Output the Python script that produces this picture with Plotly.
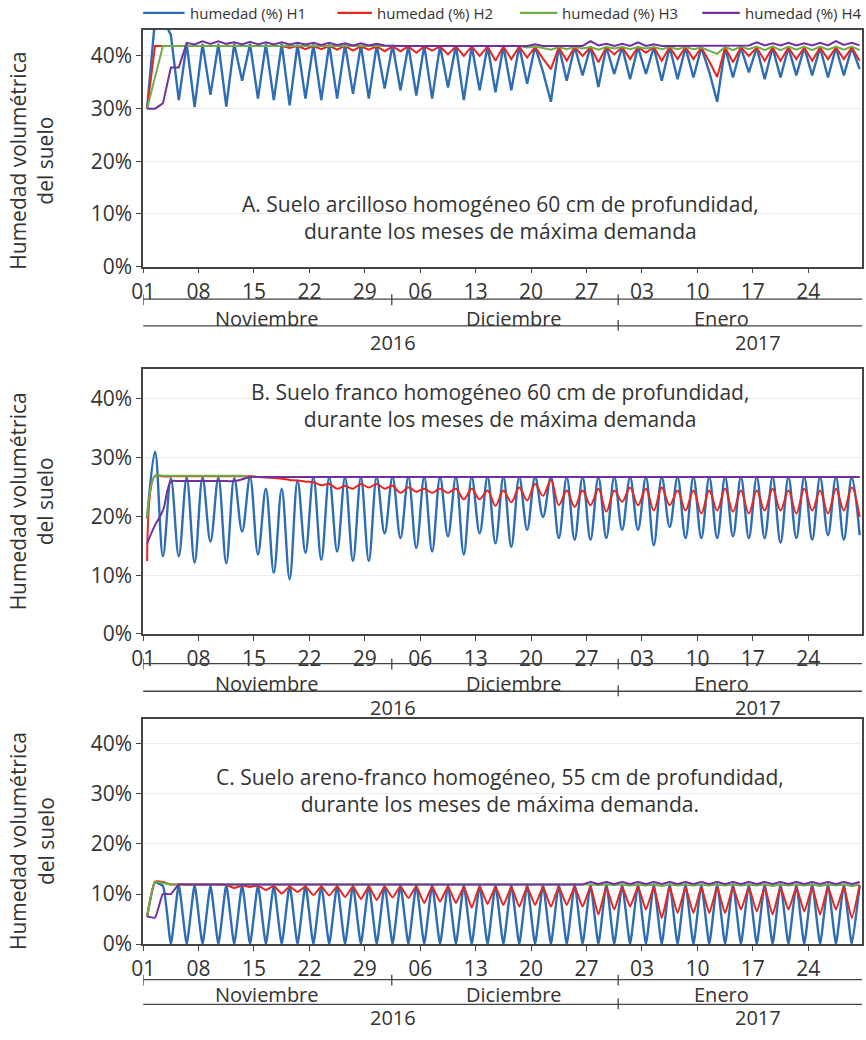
import plotly.graph_objects as go

W, H = 866, 1040

# sample positions: days since 1 Nov 2016 (daily values, plotted at mid-day)
days = [i + 0.5 for i in range(91)]

day_tick_pos = [0, 7, 14, 21, 28, 35, 42, 49, 56, 63, 70, 77, 84]
day_tick_txt = ["01", "08", "15", "22", "29", "06", "13", "20", "27", "03", "10", "17", "24"]
month_names = ["Noviembre", "Diciembre", "Enero"]
month_label_day = [15.6, 46.9, 73.1]
month_sep_day = [31.4, 60.0]
year_names = ["2016", "2017"]
year_label_day = [31.5, 77.7]
y_tick_vals = [0, 10, 20, 30, 40]
y_tick_txt = ["0%", "10%", "20%", "30%", "40%"]

names = ["humedad (%) H1", "humedad (%) H2", "humedad (%) H3", "humedad (%) H4"]
colors = ["#2E6DB4", "#E8251F", "#70AD47", "#7030A0"]
widths = [2.4, 2.0, 2.0, 2.0]

# ---------------- Panel A: arcilloso ----------------
A_H1 = [30, 47, 47, 44, 31.6, 42.3, 30.3, 42.3, 32.6, 42.3,
        30.4, 42.3, 35.3, 42.3, 31.9, 42.3, 31.6, 42.3, 30.6, 42.2,
        31.9, 42.2, 31.6, 42.2, 31.9, 42.2, 32.8, 42.1, 31.9, 42.1,
        33.8, 42.1, 33.5, 42.0, 32.5, 42.0, 31.9, 42.0, 34.0, 42.0,
        31.6, 41.9, 33.5, 41.9, 33.1, 41.9, 33.5, 41.9, 34.7, 41.8,
        37.0, 31.3, 41.8, 35.3, 41.8, 36.3, 41.8, 34.1, 41.7, 36.6,
        41.7, 35.6, 41.7, 36.6, 41.7, 35.3, 41.7, 35.6, 41.6, 35.9,
        41.6, 37.0, 31.3, 41.6, 35.9, 41.6, 36.9, 41.6, 35.6, 41.6,
        35.9, 41.6, 36.3, 41.6, 36.3, 41.6, 35.9, 41.6, 36.3, 41.6,
        37.5]
A_H2 = [30, 41.9, 41.9, 41.9, 41.9, 41.9, 41.9, 41.9, 41.9, 41.9,
        41.9, 41.9, 41.9, 41.9, 41.9, 41.9, 41.8, 41.9, 41.5, 41.9,
        41.3, 41.9, 41.3, 41.9, 41.2, 41.9, 41.0, 41.8, 41.2, 41.8,
        40.9, 41.8, 40.9, 41.8, 40.6, 41.8, 41.0, 41.8, 40.3, 41.8,
        40.0, 41.8, 40.0, 41.8, 39.1, 41.8, 39.4, 41.8, 39.7, 41.7,
        39.5, 37.5, 41.7, 39.1, 41.7, 40.0, 41.7, 38.8, 41.7, 40.3,
        41.7, 39.4, 41.7, 40.6, 41.7, 39.1, 41.7, 39.4, 41.7, 39.4,
        41.6, 39.0, 36.0, 41.6, 38.8, 41.6, 40.0, 41.6, 39.1, 41.6,
        39.1, 41.6, 39.4, 41.6, 39.1, 41.6, 39.4, 41.6, 39.4, 41.6,
        39.1]
A_H3 = [30, 36, 41.9, 41.9, 41.9, 41.9, 41.9, 41.9, 41.9, 41.9,
        41.9, 41.9, 41.9, 41.9, 41.9, 41.9, 41.9, 41.9, 41.9, 41.9,
        41.9, 41.9, 41.9, 41.9, 41.9, 41.9, 41.9, 41.9, 41.9, 41.9,
        41.9, 41.9, 41.9, 41.9, 41.9, 41.9, 41.9, 41.9, 41.9, 41.9,
        41.9, 41.9, 41.9, 41.9, 41.9, 41.9, 41.9, 41.9, 41.6, 41.8,
        41.5, 41.2, 41.7, 41.3, 41.7, 41.4, 41.7, 41.2, 41.7, 41.4,
        41.7, 41.3, 41.7, 41.4, 41.7, 41.3, 41.7, 41.3, 41.7, 41.3,
        41.6, 41.0, 40.4, 41.7, 41.1, 41.8, 41.3, 41.8, 41.1, 41.8,
        41.1, 41.8, 41.2, 41.8, 41.1, 41.8, 41.2, 41.8, 41.2, 41.8,
        41.1]
A_H4 = [30, 30, 31, 37.8, 37.8, 42.5, 42.2, 42.8, 42.3, 42.8,
        42.3, 42.6, 42.2, 42.7, 42.2, 42.6, 42.2, 42.6, 42.2, 42.5,
        42.2, 42.5, 42.1, 42.5, 42.1, 42.4, 42.0, 42.4, 42.0, 42.3,
        42.0, 41.9, 41.9, 41.9, 41.9, 41.9, 41.9, 41.9, 41.9, 41.9,
        41.9, 41.9, 41.9, 41.9, 41.9, 41.9, 41.9, 41.9, 41.9, 42.2,
        41.9, 41.9, 41.9, 41.9, 41.9, 41.9, 42.8, 42.0, 42.3, 41.9,
        42.3, 41.9, 42.6, 41.9, 42.2, 41.9, 41.9, 41.9, 41.9, 41.9,
        41.9, 41.9, 41.9, 41.9, 41.9, 41.9, 42.0, 42.6, 42.0, 42.4,
        42.0, 42.5, 42.0, 42.4, 42.0, 42.5, 42.0, 42.8, 42.1, 42.5,
        42.0]

# ---------------- Panel B: franco ----------------
B_H1 = [19.6, 31.0, 13.2, 26.5, 13.2, 26.6, 12.1, 26.6, 15.7, 26.6,
        12.0, 26.5, 17.4, 26.7, 13.5, 24.7, 10.4, 24.7, 9.3, 26.1,
        13.8, 26.7, 12.6, 26.7, 14.0, 26.7, 12.4, 26.7, 12.4, 26.7,
        17.1, 26.7, 16.3, 26.7, 14.6, 26.7, 14.0, 26.7, 16.6, 26.7,
        13.5, 26.7, 17.1, 26.7, 15.4, 26.7, 14.8, 26.7, 17.7, 26.7,
        19.9, 26.7, 16.3, 26.7, 16.0, 26.7, 16.0, 26.7, 16.3, 26.7,
        17.7, 26.7, 17.7, 26.7, 15.1, 26.7, 18.2, 26.7, 16.3, 26.7,
        16.3, 26.7, 16.3, 26.7, 16.6, 26.7, 16.3, 26.7, 16.3, 26.7,
        15.5, 26.7, 16.3, 26.7, 16.0, 26.7, 16.8, 26.7, 16.0, 26.7,
        16.8]
B_H2 = [12.4, 26.9, 26.8, 26.8, 26.8, 26.8, 26.8, 26.8, 26.8, 26.8,
        26.8, 26.8, 26.8, 26.8, 26.7, 26.6, 26.5, 26.4, 26.2, 26.1,
        25.9, 25.8, 25.3, 25.5, 24.7, 25.2, 24.7, 25.5, 24.9, 25.5,
        24.7, 25.2, 24.0, 24.9, 24.2, 24.7, 24.0, 24.7, 24.0, 24.7,
        22.9, 24.7, 22.9, 24.4, 21.8, 24.4, 22.4, 24.9, 22.7, 25.5,
        23.5, 26.2, 21.9, 24.4, 21.6, 24.4, 21.9, 24.7, 20.8, 24.4,
        22.5, 24.9, 21.9, 24.7, 21.0, 24.9, 21.9, 24.4, 21.0, 24.4,
        20.5, 24.4, 21.0, 24.7, 20.8, 24.4, 20.5, 24.4, 21.0, 24.7,
        21.0, 24.4, 20.5, 24.7, 21.0, 24.4, 20.5, 24.7, 21.0, 24.9,
        19.9]
B_H3 = [19.6, 26.9, 26.9, 26.9, 26.9, 26.9, 26.9, 26.9, 26.9, 26.9,
        26.9, 26.9, 26.9, 26.7, 26.7, 26.7, 26.7, 26.7, 26.7, 26.7,
        26.7, 26.7, 26.7, 26.7, 26.7, 26.7, 26.7, 26.7, 26.7, 26.7,
        26.7, 26.7, 26.7, 26.7, 26.7, 26.7, 26.7, 26.7, 26.7, 26.7,
        26.7, 26.7, 26.7, 26.7, 26.7, 26.7, 26.7, 26.7, 26.7, 26.7,
        26.7, 26.7, 26.7, 26.7, 26.7, 26.7, 26.7, 26.7, 26.7, 26.7,
        26.7, 26.7, 26.7, 26.7, 26.7, 26.7, 26.7, 26.7, 26.7, 26.7,
        26.7, 26.7, 26.7, 26.7, 26.7, 26.7, 26.7, 26.7, 26.7, 26.7,
        26.7, 26.7, 26.7, 26.7, 26.7, 26.7, 26.7, 26.7, 26.7, 26.7,
        26.7]
B_H4 = [15.4, 18.5, 21.0, 25.9, 26.0, 26.0, 26.0, 26.0, 26.0, 26.0,
        26.0, 26.0, 26.3, 26.7, 26.7, 26.7, 26.7, 26.7, 26.7, 26.7,
        26.7, 26.7, 26.7, 26.7, 26.7, 26.7, 26.7, 26.7, 26.7, 26.7,
        26.7, 26.7, 26.7, 26.7, 26.7, 26.7, 26.7, 26.7, 26.7, 26.7,
        26.7, 26.7, 26.7, 26.7, 26.7, 26.7, 26.7, 26.7, 26.7, 26.7,
        26.7, 26.7, 26.7, 26.7, 26.7, 26.7, 26.7, 26.7, 26.7, 26.7,
        26.7, 26.7, 26.7, 26.7, 26.7, 26.7, 26.7, 26.7, 26.7, 26.7,
        26.7, 26.7, 26.7, 26.7, 26.7, 26.7, 26.7, 26.7, 26.7, 26.7,
        26.7, 26.7, 26.7, 26.7, 26.7, 26.7, 26.7, 26.7, 26.7, 26.7,
        26.7]

# ---------------- Panel C: areno-franco ----------------
C_H1 = [5.5, 12.3, 11.6, 0.0, 11.8, 0.0, 11.8, 0.0, 11.7, 0.0,
        11.8, 0.0, 11.8, 0.0, 11.8, 0.0, 11.7, 0.0, 11.8, 0.0,
        11.8, 0.0, 11.7, 0.0, 11.8, 0.0, 11.8, 0.0, 11.8, 0.0,
        11.7, 0.0, 11.8, 0.0, 11.8, 0.0, 11.8, 0.0, 11.7, 0.0,
        11.8, 0.0, 11.8, 0.0, 11.8, 0.0, 11.8, 0.0, 11.9, 0.0,
        11.9, 0.0, 11.9, 0.0, 12.0, 0.0, 11.9, 0.0, 12.0, 0.0,
        11.9, 0.0, 12.0, 0.0, 11.9, 0.0, 12.0, 0.0, 12.0, 0.0,
        11.9, 0.0, 12.0, 0.0, 12.0, 0.0, 11.9, 0.0, 12.0, 0.0,
        12.0, 0.0, 11.9, 0.0, 12.0, 0.0, 12.0, 0.0, 11.9, 0.0,
        11.8]
C_H2 = [5.5, 12.5, 12.4, 11.9, 11.9, 11.9, 11.9, 11.9, 11.9, 11.9,
        11.8, 11.2, 11.7, 11.4, 11.7, 10.8, 11.6, 10.1, 11.5, 10.4,
        11.5, 9.8, 11.5, 9.7, 11.5, 9.4, 11.5, 9.0, 11.5, 8.8,
        11.5, 9.3, 11.5, 9.2, 11.5, 8.2, 11.5, 8.5, 11.5, 8.2,
        11.4, 7.3, 11.5, 8.0, 11.4, 7.8, 11.4, 7.5, 11.4, 7.8,
        11.4, 7.5, 11.4, 7.8, 11.4, 7.5, 11.4, 5.9, 11.3, 6.9,
        11.4, 7.5, 11.4, 6.9, 11.3, 5.2, 11.3, 6.2, 11.3, 6.2,
        11.3, 6.2, 11.3, 6.2, 11.3, 6.9, 11.3, 6.5, 11.3, 5.9,
        11.3, 6.9, 11.3, 6.5, 11.3, 5.9, 11.3, 6.9, 11.3, 5.2,
        11.8]
C_H3 = [5.5, 12.4, 12.2, 11.9, 11.9, 11.9, 11.9, 11.9, 11.9, 11.9,
        11.9, 11.9, 11.9, 11.9, 11.9, 11.9, 11.9, 11.9, 11.9, 11.9,
        11.9, 11.9, 11.9, 11.9, 11.9, 11.9, 11.9, 11.9, 11.9, 11.9,
        11.9, 11.9, 11.9, 11.9, 11.9, 11.9, 11.9, 11.9, 11.9, 11.9,
        11.9, 11.9, 11.9, 11.9, 11.9, 11.9, 11.9, 11.9, 11.9, 11.9,
        11.9, 11.9, 11.9, 11.9, 11.9, 11.9, 11.9, 11.8, 11.9, 11.8,
        11.9, 11.7, 11.9, 11.7, 11.9, 11.6, 11.9, 11.7, 11.9, 11.7,
        11.9, 11.7, 11.9, 11.7, 11.9, 11.7, 11.9, 11.7, 11.9, 11.6,
        11.9, 11.7, 11.9, 11.7, 11.9, 11.6, 11.9, 11.7, 11.9, 11.6,
        11.9]
C_H4 = [5.5, 5.3, 10.0, 10.0, 11.9, 11.9, 11.9, 11.9, 11.9, 11.9,
        11.9, 11.9, 11.9, 11.9, 11.9, 11.9, 11.9, 11.9, 11.9, 11.9,
        11.9, 11.9, 11.9, 11.9, 11.9, 11.9, 11.9, 11.9, 11.9, 11.9,
        11.9, 11.9, 11.9, 11.9, 11.9, 11.9, 11.9, 11.9, 11.9, 11.9,
        11.9, 11.9, 11.9, 11.9, 11.9, 11.9, 11.9, 11.9, 11.9, 11.9,
        11.9, 11.9, 11.9, 11.9, 11.9, 11.9, 12.4, 12.0, 12.4, 12.0,
        12.4, 12.0, 12.4, 12.0, 12.4, 12.0, 12.4, 12.0, 12.4, 12.0,
        12.4, 12.0, 12.4, 12.0, 12.4, 12.0, 12.4, 12.0, 12.4, 12.0,
        12.4, 12.0, 12.4, 12.0, 12.4, 12.0, 12.4, 12.0, 12.4, 12.0,
        12.4]

panel_titles = [
    "A. Suelo arcilloso homogéneo 60 cm de profundidad,<br>durante los meses de máxima demanda",
    "B. Suelo franco homogéneo 60 cm de profundidad,<br>durante los meses de máxima demanda",
    "C. Suelo areno-franco homogéneo, 55 cm de profundidad,<br>durante los meses de máxima demanda.",
]
y_title = "Humedad volumétrica<br>del suelo"

panels = [
    dict(data=[A_H1, A_H2, A_H3, A_H4], shape="linear", smooth=0,
         top=30, bottom=270, month_y=303, year_y=330, month_lab=323, year_lab=347, title_y=220, ytitle=163),
    dict(data=[B_H1, B_H2, B_H3, B_H4], shape="spline", smooth=1.0,
         top=374, bottom=642, month_y=672, year_y=700, month_lab=692, year_lab=716, title_y=411, ytitle=508),
    dict(data=[C_H1, C_H2, C_H3, C_H4], shape="spline", smooth=0.45,
         top=728, bottom=956, month_y=992, year_y=1017, month_lab=1007, year_lab=1030, title_y=801, ytitle=852),
]

FONT = "Open Sans"
TXT = "#333333"
LEFT, RIGHT = 133, 862
FS = 21
FS_LVL = 20

# legend geometry (pixels): line start, line end
leg_line = [(133, 175), (330, 365), (515, 553), (700, 738)]
leg_y = 13


def px(x):
    return x / W


def py(y):
    return 1 - y / H


fig = go.Figure()
layout = dict(
    width=W, height=H, margin=dict(l=0, r=0, t=0, b=0),
    paper_bgcolor="white", plot_bgcolor="white",
    font=dict(family=FONT, size=FS, color=TXT),
    showlegend=False,
)
shapes = []
annotations = []

for k, p in enumerate(panels):
    xa = "x" if k == 0 else f"x{k+1}"
    ya = "y" if k == 0 else f"y{k+1}"
    for s in range(4):
        fig.add_trace(go.Scatter(
            x=days, y=p["data"][s], mode="lines", name=names[s],
            line=dict(color=colors[s], width=widths[s], shape=p["shape"],
                      smoothing=p["smooth"] if p["shape"] == "spline" else None),
            xaxis=xa, yaxis=ya, showlegend=False, cliponaxis=True,
        ))
    xkey = "xaxis" if k == 0 else f"xaxis{k+1}"
    ykey = "yaxis" if k == 0 else f"yaxis{k+1}"
    layout[xkey] = dict(
        domain=[px(LEFT), px(RIGHT)], range=[0, 90.8], anchor=ya,
        tickmode="array", tickvals=day_tick_pos, ticktext=day_tick_txt,
        ticks="outside", ticklen=5, tickcolor="#444", tickwidth=1,
        showline=True, linecolor="#444", linewidth=1.5, mirror=True,
        showgrid=False, zeroline=False, fixedrange=True,
        tickfont=dict(size=FS, color=TXT, family=FONT),
    )
    layout[ykey] = dict(
        domain=[py(p["bottom"]), py(p["top"])], range=[0, 45], anchor=xa,
        tickmode="array", tickvals=y_tick_vals, ticktext=y_tick_txt,
        ticks="outside", ticklen=5, tickcolor="#444", tickwidth=1,
        showline=True, linecolor="#444", linewidth=1.5, mirror=True,
        showgrid=True, gridcolor="#ececec", gridwidth=1, zeroline=False,
        fixedrange=True, tickfont=dict(size=FS, color=TXT, family=FONT),
    )
    # multi-level axis: month line & year line
    for ly in (p["month_y"], p["year_y"]):
        shapes.append(dict(type="line", xref="paper", yref="paper",
                           x0=px(LEFT), x1=px(RIGHT), y0=py(ly), y1=py(ly),
                           line=dict(color="#444", width=1.3)))
    shapes.append(dict(type="line", xref=xa, yref="paper", x0=0, x1=0,
                       y0=py(p["month_y"] - 5), y1=py(p["month_y"] + 6),
                       line=dict(color="#444", width=1.3)))
    for j, d in enumerate(month_sep_day):
        shapes.append(dict(type="line", xref=xa, yref="paper", x0=d, x1=d,
                           y0=py(p["month_y"] - 5), y1=py(p["month_y"] + 6),
                           line=dict(color="#444", width=1.3)))
        if j == 1:
            shapes.append(dict(type="line", xref=xa, yref="paper", x0=d, x1=d,
                               y0=py(p["year_y"] - 6), y1=py(p["year_y"] + 5),
                               line=dict(color="#444", width=1.3)))
    for m, d in zip(month_names, month_label_day):
        annotations.append(dict(text=m, xref=xa, yref="paper", x=d, y=py(p["month_lab"]),
                                showarrow=False, xanchor="center", yanchor="middle",
                                borderpad=0,
                                font=dict(size=FS_LVL, color=TXT, family=FONT)))
    for yname, d in zip(year_names, year_label_day):
        annotations.append(dict(text=yname, xref=xa, yref="paper", x=d, y=py(p["year_lab"]),
                                showarrow=False, xanchor="center", yanchor="middle",
                                borderpad=0,
                                font=dict(size=FS_LVL, color=TXT, family=FONT)))
    # panel caption
    annotations.append(dict(text=panel_titles[k], xref="paper", yref="paper",
                            x=px(495), y=py(p["title_y"]), showarrow=False,
                            xanchor="center", yanchor="middle", align="center",
                            font=dict(size=FS, color=TXT, family=FONT)))
    # y-axis title
    annotations.append(dict(text=y_title, xref="paper", yref="paper",
                            x=px(20), y=py(p["ytitle"]), showarrow=False,
                            textangle=-90, xanchor="center", yanchor="middle", align="center",
                            font=dict(size=FS, color=TXT, family=FONT)))

# manual legend (top)
for s in range(4):
    x0, x1 = leg_line[s]
    shapes.append(dict(type="line", xref="paper", yref="paper",
                       x0=px(x0), x1=px(x1), y0=py(leg_y), y1=py(leg_y),
                       line=dict(color=colors[s], width=2.2)))
    annotations.append(dict(text=names[s], xref="paper", yref="paper",
                            x=px(x1 + 3), y=py(leg_y), showarrow=False,
                            xanchor="left", yanchor="middle",
                            font=dict(size=15, color=TXT, family=FONT)))

layout["shapes"] = shapes
layout["annotations"] = annotations
fig.update_layout(**layout)
fig.write_html("out.html")
